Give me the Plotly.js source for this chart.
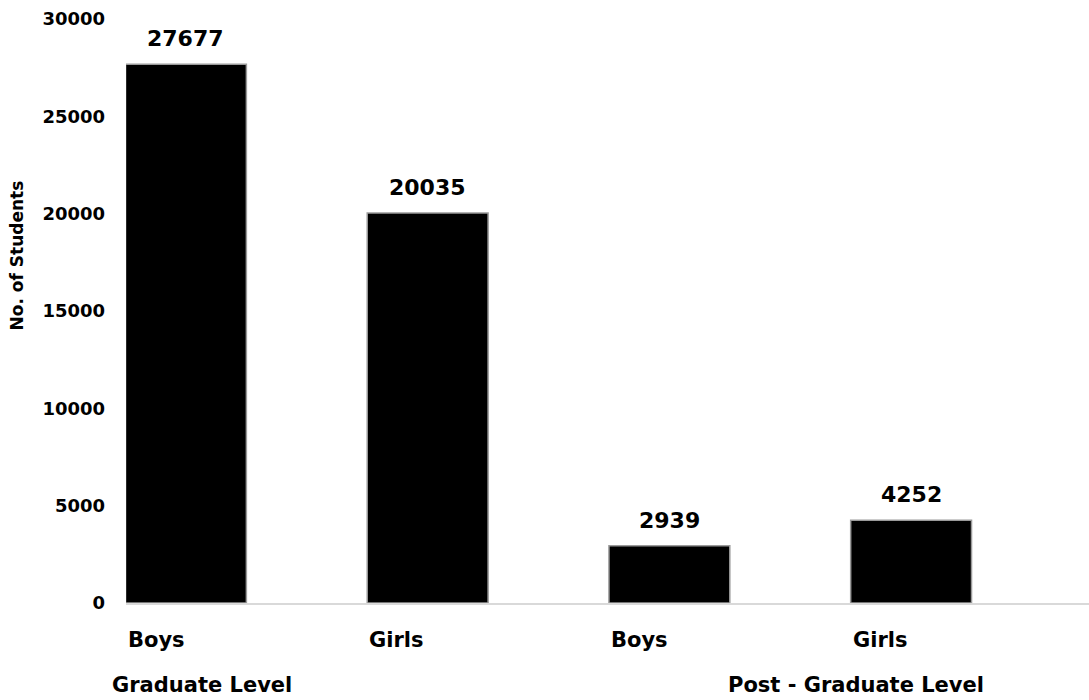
<!DOCTYPE html>
<html>
<head>
<meta charset="utf-8">
<script src="https://cdn.plot.ly/plotly-3.0.1.min.js"></script>
<style>html,body{margin:0;padding:0;background:#fff;}#chart{width:1089px;height:700px;}</style>
</head>
<body>
<div id="chart"></div>
<script>
const categories = ["Boys", "Girls", "Boys", "Girls"];
const groups = ["Graduate Level", "Post - Graduate Level"];
const students = [27677, 20035, 2939, 4252];
const yTickVals = [0, 5000, 10000, 15000, 20000, 25000, 30000];

const FONT = "DejaVu Sans";
const xPos = categories.map((c, i) => i);
const xRange = [-0.248, 3.736];
const toPaper = x => (x - xRange[0]) / (xRange[1] - xRange[0]);

const annotations = [];
students.forEach((v, i) => {
  annotations.push({
    x: xPos[i], y: v, xref: "x", yref: "y",
    text: "<b>" + v + "</b>", showarrow: false,
    yanchor: "bottom", yshift: 11,
    font: {family: FONT, size: 22, color: "#000"}
  });
});
categories.forEach((c, i) => {
  annotations.push({
    x: toPaper(xPos[i] - 0.25), y: 0, xref: "paper", yref: "paper",
    text: "<b>" + c + "</b>", showarrow: false,
    xanchor: "left", yanchor: "middle", yshift: -37,
    font: {family: FONT, size: 21, color: "#000"}
  });
});
const groupX = [-0.315, 2.235];
groups.forEach((g, i) => {
  annotations.push({
    x: toPaper(groupX[i]), y: 0, xref: "paper", yref: "paper",
    text: "<b>" + g + "</b>", showarrow: false,
    xanchor: "left", yanchor: "middle", yshift: -82,
    font: {family: FONT, size: 21, color: "#000"}
  });
});
annotations.push({
  x: 0, y: 0.595, xref: "paper", yref: "paper",
  xanchor: "center", yanchor: "middle", xshift: -109,
  text: "<b>No. of Students</b>", textangle: -90, showarrow: false,
  font: {family: FONT, size: 17, color: "#000"}
});

const traces = [{
  type: "bar",
  x: xPos,
  y: students,
  width: 0.5,
  marker: {color: "#000000", line: {color: "#9a9a9a", width: 1.5}},
  hoverinfo: "skip"
}];

const layout = {
  width: 1089, height: 700,
  margin: {l: 126, r: 0, t: 19, b: 97},
  paper_bgcolor: "#fff", plot_bgcolor: "#fff",
  showlegend: false,
  xaxis: {
    range: xRange,
    showticklabels: false, showgrid: false, zeroline: false,
    showline: true, linecolor: "#d9d9d9", linewidth: 2, ticks: ""
  },
  yaxis: {
    range: [0, 30000],
    tickvals: yTickVals,
    ticktext: yTickVals.map(v => "<b>" + v + "</b>"),
    showgrid: false, zeroline: false, showline: false, ticks: "",
    ticklabelstandoff: 20,
    tickfont: {family: FONT, size: 18, color: "#000"}
  },
  annotations: annotations
};

Plotly.newPlot("chart", traces, layout, {displayModeBar: false, staticPlot: true});
</script>
</body>
</html>
